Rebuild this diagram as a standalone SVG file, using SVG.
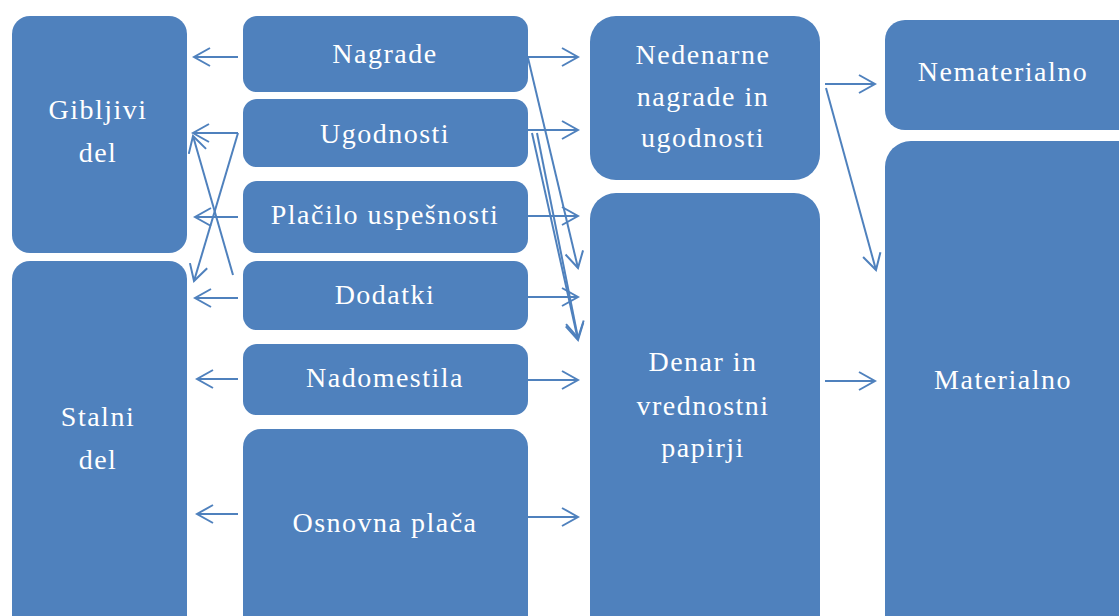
<svg xmlns="http://www.w3.org/2000/svg" width="1119" height="616" viewBox="0 0 1119 616">
<defs>
<style>
.box{fill:#4F81BD;}
.t{font-family:"Liberation Serif","Times New Roman",serif;font-size:28px;fill:#FFFFFF;text-anchor:middle;letter-spacing:1.5px;}
.c{stroke:#4F81BD;stroke-width:2;fill:none;marker-end:url(#ah);}
</style>
<marker id="ah" markerUnits="userSpaceOnUse" markerWidth="20" markerHeight="20" viewBox="0 0 20 20" refX="18" refY="10" orient="auto">
<path d="M2,1 L18,10 L2,19" fill="none" stroke="#4F81BD" stroke-width="2"/>
</marker>
</defs>
<rect width="1119" height="616" fill="#FFFFFF"/>
<g id="gibljivi">
<rect class="box" x="12" y="16" width="175" height="237" rx="18"/>
<text class="t" x="98" y="119">Gibljivi</text>
<text class="t" x="98" y="162">del</text>
</g>
<g id="stalni">
<rect class="box" x="12" y="261" width="175" height="380" rx="18"/>
<text class="t" x="98" y="426">Stalni</text>
<text class="t" x="98" y="469">del</text>
</g>
<g id="nagrade">
<rect class="box" x="243" y="16" width="285" height="76" rx="14"/>
<text class="t" x="385" y="63">Nagrade</text>
</g>
<g id="ugodnosti">
<rect class="box" x="243" y="99" width="285" height="68" rx="14"/>
<text class="t" x="385" y="143">Ugodnosti</text>
</g>
<g id="placilo">
<rect class="box" x="243" y="181" width="285" height="72" rx="14"/>
<text class="t" x="385" y="224">Plačilo uspešnosti</text>
</g>
<g id="dodatki">
<rect class="box" x="243" y="261" width="285" height="69" rx="14"/>
<text class="t" x="385" y="304">Dodatki</text>
</g>
<g id="nadomestila">
<rect class="box" x="243" y="344" width="285" height="71" rx="14"/>
<text class="t" x="385" y="387">Nadomestila</text>
</g>
<g id="osnovna">
<rect class="box" x="243" y="429" width="285" height="212" rx="18"/>
<text class="t" x="385" y="532">Osnovna plača</text>
</g>
<g id="nedenarne">
<rect class="box" x="590" y="16" width="230" height="164" rx="26"/>
<text class="t" x="703" y="64">Nedenarne</text>
<text class="t" x="703" y="106">nagrade in</text>
<text class="t" x="703" y="147">ugodnosti</text>
</g>
<g id="denar">
<rect class="box" x="590" y="193" width="230" height="448" rx="26"/>
<text class="t" x="703" y="371">Denar in</text>
<text class="t" x="703" y="415">vrednostni</text>
<text class="t" x="703" y="457">papirji</text>
</g>
<g id="nematerialno">
<rect class="box" x="885" y="20" width="260" height="110" rx="20"/>
<text class="t" x="1003" y="81">Nematerialno</text>
</g>
<g id="materialno">
<rect class="box" x="885" y="141" width="260" height="500" rx="26"/>
<text class="t" x="1003" y="389">Materialno</text>
</g>
<g id="connectors">
<line class="c" x1="238" y1="57" x2="194" y2="57"/>
<line class="c" x1="238" y1="133" x2="193" y2="133"/>
<line class="c" x1="238" y1="133" x2="194" y2="281"/>
<line class="c" x1="233" y1="275" x2="193" y2="136"/>
<line class="c" x1="238" y1="217" x2="195" y2="217"/>
<line class="c" x1="238" y1="298" x2="195" y2="298"/>
<line class="c" x1="238" y1="379" x2="197" y2="379"/>
<line class="c" x1="238" y1="514" x2="197" y2="514"/>
<line class="c" x1="528" y1="57" x2="578" y2="57"/>
<line class="c" x1="528" y1="130" x2="578" y2="130"/>
<line class="c" x1="528" y1="216" x2="578" y2="216"/>
<line class="c" x1="528" y1="297" x2="578" y2="297"/>
<line class="c" x1="528" y1="380" x2="578" y2="380"/>
<line class="c" x1="528" y1="517" x2="578" y2="517"/>
<line class="c" x1="528" y1="58" x2="578" y2="268"/>
<line class="c" x1="532" y1="133" x2="578" y2="340"/>
<line class="c" x1="537" y1="133" x2="578" y2="338"/>
<line class="c" x1="825" y1="84" x2="875" y2="84"/>
<line class="c" x1="826" y1="88" x2="876" y2="270"/>
<line class="c" x1="825" y1="381" x2="875" y2="381"/>
</g>
</svg>
